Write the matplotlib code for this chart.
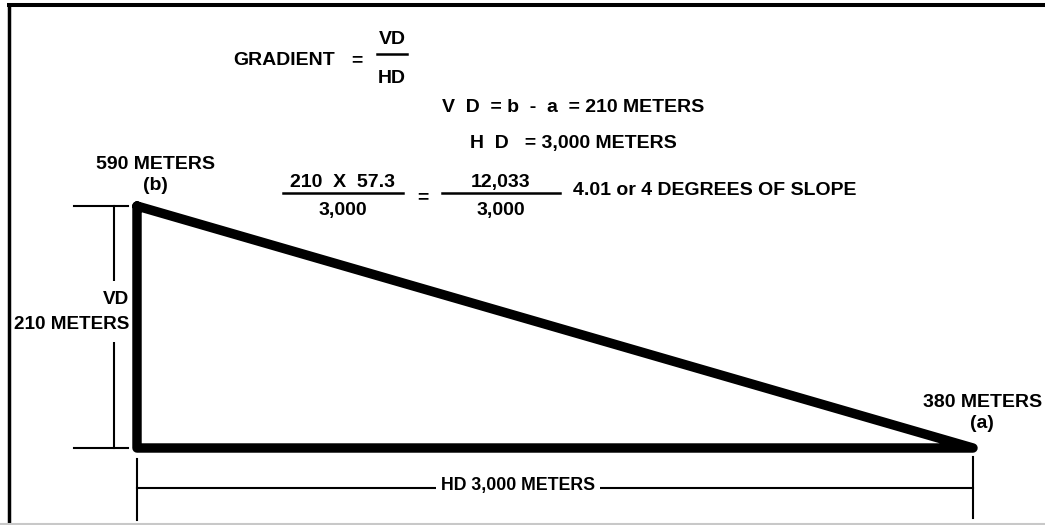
import matplotlib
matplotlib.use("Agg")
import matplotlib.pyplot as plt
from matplotlib.transforms import blended_transform_factory as blend

W, H, DPI = 1045, 525, 100
FONT = "Liberation Sans"
FS = 14
INK = "black"

# survey values
elevations = [590, 380]      # (b) top, (a) bottom, meters
distances = [0, 3000]        # horizontal positions, meters
point_names = ["(b)", "(a)"]
rad_factor = 57.3

vd = elevations[0] - elevations[1]
hd = distances[1] - distances[0]
numer = vd * rad_factor
slope = numer / hd

fig = plt.figure(figsize=(W / DPI, H / DPI), dpi=DPI)
fig.patch.set_facecolor("white")

# overlay in pixel coords for text and frame
ax = fig.add_axes([0, 0, 1, 1])
ax.set_xlim(0, W)
ax.set_ylim(H, 0)
ax.axis("off")

# triangle axes in meters
tri = fig.add_axes([137 / W, 1 - 448 / H, (973 - 137) / W, (448 - 206) / H])
tri.set_xlim(distances[0], distances[1])
tri.set_ylim(elevations[1], elevations[0])
tri.axis("off")


def label(x, y, s, ha="center", size=FS, **kw):
    # y is the visual middle of capital letters
    return ax.text(x, y + size * 0.5, s, ha=ha, va="baseline", fontsize=size,
                   fontweight="bold", family=FONT, color=INK, **kw)


# ---- frame ----
ax.plot([7, W], [5, 5], color=INK, lw=2.9, solid_capstyle="butt", zorder=10)
ax.plot([9, 9], [4, H], color=INK, lw=2.5, solid_capstyle="butt", zorder=10)
ax.plot([0, W], [523.5, 523.5], color="#c8c8c8", lw=1.5, zorder=10)

# ---- triangle ----
tx = [distances[0], distances[0], distances[1], distances[0]]
ty = [elevations[0], elevations[1], elevations[1], elevations[0]]
tri.plot(tx, ty, color=INK, lw=6.8, solid_joinstyle="round",
         solid_capstyle="round", clip_on=False)

# ---- VD dimension ----
t_vd = blend(ax.transData, tri.transData)
for e in elevations:
    ax.plot([74, 128], [e, e], color=INK, lw=1.5, transform=t_vd)
ax.plot([114, 114], elevations, color=INK, lw=1.5, transform=t_vd)
box = dict(boxstyle="square,pad=0.5", facecolor="white", edgecolor="none")
label(129, 297, "VD", ha="right", size=13.6, bbox=box)
label(129, 322, f"{vd} METERS", ha="right", size=13.6, bbox=box)

# ---- HD dimension ----
t_hd = blend(tri.transData, ax.transData)
for d, top in zip(distances, [459, 457]):
    ax.plot([d, d], [top, top + 61], color=INK, lw=1.5, transform=t_hd)
ax.plot(distances, [488, 488], color=INK, lw=1.5, transform=t_hd)
label(518, 484, f"HD {hd:,} METERS", size=12.8,
      bbox=dict(boxstyle="square,pad=0.25", facecolor="white", edgecolor="none"))

# ---- point labels ----
label(155, 162, f"{elevations[0]} METERS")
label(155, 183, point_names[0])
label(983, 400, f"{elevations[1]} METERS")
label(982, 421, point_names[1])

# ---- formula ----
label(233, 58, "GRADIENT", ha="left")
label(357, 58, "=")
ax.plot([377, 407], [54, 54], color=INK, lw=1.8)
label(392, 37, "VD")
label(392, 76, "HD")

label(442, 105, f"V  D  = b  -  a  = {vd} METERS", ha="left")
label(470, 141, f"H  D   = {hd:,} METERS", ha="left")

ax.plot([283, 403], [193, 193], color=INK, lw=1.8)
label(343, 180, f"{vd}  X  57.3")
label(343, 208, f"{hd:,}")
label(423, 195, "=")
ax.plot([442, 560], [193, 193], color=INK, lw=1.8)
label(501, 180, f"{numer:,.0f}")
label(501, 208, f"{hd:,}")
label(573, 188, f"{slope:.2f} or {round(slope)} DEGREES OF SLOPE", ha="left")

fig.savefig("out.png", dpi=DPI, facecolor="white")
